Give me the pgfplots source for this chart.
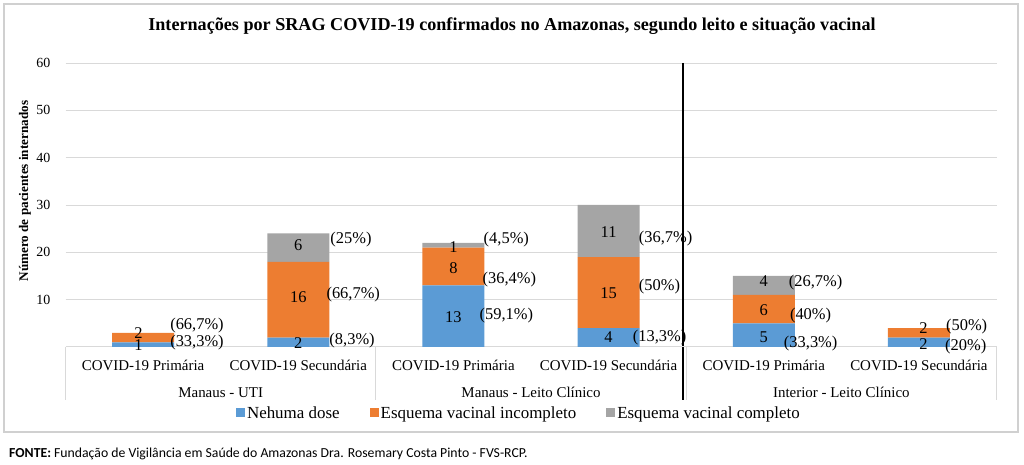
\documentclass[border=0pt]{standalone}
\usepackage{pgfplots}
\pgfplotsset{compat=1.18}
\usepackage{fontspec}
\setmainfont{Liberation Serif}
\newfontfamily\calibri{Carlito}
\definecolor{cblue}{HTML}{5B9BD5}
\definecolor{corange}{HTML}{ED7D31}
\definecolor{cgray}{HTML}{A5A5A5}
\definecolor{gridc}{HTML}{D9D9D9}
\definecolor{framec}{HTML}{D0D0D0}
\begin{document}
\begin{tikzpicture}[x=1bp,y=1bp]
\path[use as bounding box] (0,0) rectangle (1024,465);
\draw[framec, line width=1.5bp] (4,33) rectangle (1018,461);
\node[font=\fontsize{18.2}{20}\selectfont\bfseries, inner sep=0pt] at (512,439) {Internações por SRAG COVID-19 confirmados no Amazonas, segundo leito e situação vacinal};
\node[font=\calibri\fontsize{13.8}{16}\selectfont, anchor=west, inner sep=0pt] at (9,11) {\textbf{FONTE:} Fundação de Vigilância em Saúde do Amazonas Dra. Rosemary Costa Pinto - FVS-RCP.};

\begin{axis}[
  at={(65.5bp,118bp)}, anchor=south west,
  scale only axis, width=931bp, height=284bp,
  xmin=-0.5, xmax=5.5, ymin=0, ymax=60,
  clip=false,
  ybar stacked, bar width=62bp,
  axis line style={draw=none},
  tick style={draw=none}, major tick length=0pt,
  ymajorgrids, grid style={gridc, line width=0.8bp},
  ytick={10,20,...,60},
  /pgf/number format/assume math mode=true,
  yticklabel style={font=\fontsize{14}{16}\selectfont, inner sep=0pt, anchor=east, xshift=-15bp},
  xtick={0,...,5},
  xticklabels={COVID-19 Primária, COVID-19 Secundária, COVID-19 Primária, COVID-19 Secundária, COVID-19 Primária, COVID-19 Secundária},
  xticklabel style={font=\fontsize{15}{17}\selectfont, inner sep=0pt, anchor=base, yshift=-24bp},
  extra x ticks={0.5,2.5,4.5},
  extra x tick labels={Manaus - UTI, Manaus - Leito Clínico, Interior - Leito Clínico},
  extra x tick style={xticklabel style={yshift=-27bp}},
  ylabel={Número de pacientes internados},
  every axis y label/.style={at={(axis description cs:-0.0435,0.549)}, rotate=90, anchor=center, font=\fontsize{13.2}{15}\selectfont\bfseries},
  legend columns=3,
  legend style={draw=none, fill=none, font=\fontsize{17}{19}\selectfont,
    at={(axis description cs:0.487,-0.2324)}, anchor=center,
    cells={anchor=west},
    /tikz/every even column/.append style={column sep=28bp}},
  legend image code/.code={\fill[#1] (0bp,-4.5bp) rectangle (9bp,4.5bp);},
]
\addplot[fill=cblue, draw=none] coordinates {(0,1) (1,2) (2,13) (3,4) (4,5) (5,2)};
\addplot[fill=corange, draw=none] coordinates {(0,2) (1,16) (2,8) (3,15) (4,6) (5,2)};
\addplot[fill=cgray, draw=none] coordinates {(0,0) (1,6) (2,1) (3,11) (4,4) (5,0)};
\legend{Nehuma dose, Esquema vacinal incompleto, Esquema vacinal completo}
\draw[gridc, line width=1bp] (axis cs:-0.5,0) -- (axis cs:5.5,0);
\draw[gridc, line width=1bp] (axis cs:-0.5,0) -- ++(0bp,-53bp);
\draw[gridc, line width=1bp] (axis cs:1.5,0) -- ++(0bp,-53bp);
\draw[gridc, line width=1bp] (axis cs:3.5,0) -- ++(0bp,-53bp);
\draw[gridc, line width=1bp] (axis cs:5.5,0) -- ++(0bp,-53bp);
\draw[black, line width=1.6bp] (axis cs:3.48,60) -- ++(0bp,-337bp);
\end{axis}

\begin{axis}[
  at={(65.5bp,118bp)}, anchor=south west,
  scale only axis, width=931bp, height=284bp,
  xmin=-0.5, xmax=5.5, ymin=0, ymax=60,
  hide axis, clip=false,
]
\addplot[draw=none, mark=none, nodes near coords, point meta=explicit symbolic,
  nodes near coords style={anchor=center, inner sep=0pt, font=\fontsize{16.5}{18}\selectfont}]
  table[meta=l] {
x y l
-0.03 0.4 1
-0.03 3.0 2
1 0.8 2
1 10.6 16
1 21.6 6
2 6.4 13
2 16.7 8
2 21.2 1
3 2.1 4
3 11.4 15
3 24.3 11
4 2.1 5
4 7.8 6
4 13.9 4
5.03 0.6 2
5.03 4.0 2
};
\addplot[draw=none, mark=none, nodes near coords={(\pgfplotspointmeta\%)}, point meta=explicit symbolic,
  nodes near coords style={anchor=west, inner sep=0pt, font=\fontsize{16.5}{18}\selectfont}]
  table[meta=l] {
x y l
0.174 0.85 33,3
0.174 4.6 66,7
1.2 1.3 8,3
1.181 11 66,7
1.206 22.6 25
2.168 6.6 59,1
2.187 14.2 36,4
2.194 22.6 4,5
3.155 2.1 13,3
3.194 12.7 50
3.194 23 36,7
4.129 0.8 33,3
4.168 6.6 40
4.161 13.7 26,7
5.168 0 20
5.174 4.4 50
};
\end{axis}
\end{tikzpicture}
\end{document}
